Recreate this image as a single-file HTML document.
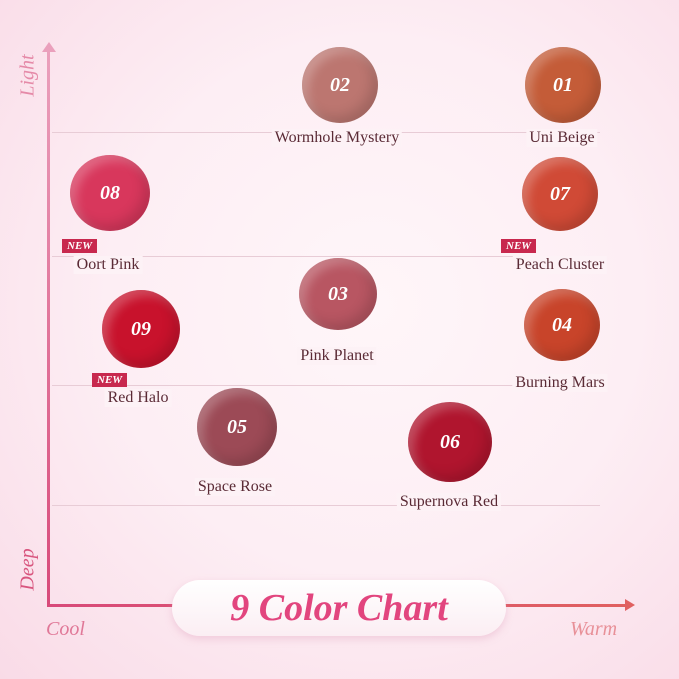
<!DOCTYPE html><html><head><style>
body{margin:0}
#c{position:relative;width:679px;height:679px;overflow:hidden;background:radial-gradient(ellipse at 55% 45%,#fff6f9 0%,#fdeef4 50%,#f9dbe7 100%);font-family:"Liberation Serif",serif;font-style:italic}
.g{position:absolute;left:52px;width:548px;height:1px;background:#e8ccd6}
.s{position:absolute;border-radius:50%;color:#fff;font-weight:bold;font-size:20px;display:flex;align-items:center;justify-content:center;box-shadow:inset -6px -6px 12px rgba(0,0,0,.15),inset 6px 6px 10px rgba(255,255,255,.25)}
.l{position:absolute;transform:translateX(-50%);background:#fdf2f6;color:#5a2a35;font-size:16px;font-style:normal;padding:0 3px;white-space:nowrap;line-height:18px}
.n{position:absolute;background:#c8284e;color:#fff;font-size:11px;font-weight:bold;padding:0 5px;line-height:14px}
.ax{position:absolute;color:#e58aa8;font-size:20px}
</style></head><body><div id="c">
<div class="g" style="top:132px"></div><div class="g" style="top:256px"></div><div class="g" style="top:385px"></div><div class="g" style="top:505px"></div>
<div style="position:absolute;left:47px;top:50px;width:3px;height:557px;background:linear-gradient(#eaa0bc,#d84a7a)"></div>
<div style="position:absolute;left:42px;top:42px;border-left:7px solid transparent;border-right:7px solid transparent;border-bottom:10px solid #eaa0bc"></div>
<div style="position:absolute;left:47px;top:604px;width:580px;height:3px;background:linear-gradient(90deg,#d84a7a,#e06060)"></div>
<div style="position:absolute;left:625px;top:599px;border-top:6px solid transparent;border-bottom:6px solid transparent;border-left:10px solid #e06060"></div>
<div class="ax" style="left:6px;top:64px;transform:rotate(-90deg);width:44px;text-align:center">Light</div>
<div class="ax" style="left:4px;top:558px;transform:rotate(-90deg);width:48px;text-align:center;color:#d8557e">Deep</div>
<div class="ax" style="left:46px;top:618px;color:#e07898">Cool</div>
<div class="ax" style="left:570px;top:618px;color:#e89098">Warm</div>
<div style="position:absolute;left:172px;top:580px;width:334px;height:56px;border-radius:28px;background:linear-gradient(#fff,#fbeef3);box-shadow:0 3px 8px rgba(220,150,180,.35);text-align:center;line-height:56px;font-size:38px;font-weight:bold;color:#e2457e">9 Color Chart</div>
<div class="s" style="left:302px;top:47px;width:76px;height:76px;background:#bc7670">02</div>
<div class="s" style="left:525px;top:47px;width:76px;height:76px;background:#c45c38">01</div>
<div class="s" style="left:70px;top:155px;width:80px;height:76px;background:#d8375c">08</div>
<div class="s" style="left:522px;top:157px;width:76px;height:74px;background:#d04a36">07</div>
<div class="s" style="left:299px;top:258px;width:78px;height:72px;background:#b85662">03</div>
<div class="s" style="left:102px;top:290px;width:78px;height:78px;background:#c8122c">09</div>
<div class="s" style="left:524px;top:289px;width:76px;height:72px;background:#c8442a">04</div>
<div class="s" style="left:197px;top:388px;width:80px;height:78px;background:#9c4a56">05</div>
<div class="s" style="left:408px;top:402px;width:84px;height:80px;background:#b0152e">06</div>
<div class="l" style="left:337px;top:129px">Wormhole Mystery</div>
<div class="l" style="left:562px;top:129px">Uni Beige</div>
<div class="l" style="left:108px;top:256px">Oort Pink</div>
<div class="l" style="left:560px;top:256px">Peach Cluster</div>
<div class="l" style="left:337px;top:347px">Pink Planet</div>
<div class="l" style="left:138px;top:389px">Red Halo</div>
<div class="l" style="left:560px;top:374px">Burning Mars</div>
<div class="l" style="left:235px;top:478px">Space Rose</div>
<div class="l" style="left:449px;top:493px">Supernova Red</div>
<div class="n" style="left:62px;top:239px">NEW</div>
<div class="n" style="left:501px;top:239px">NEW</div>
<div class="n" style="left:92px;top:373px">NEW</div>
</div></body></html>
